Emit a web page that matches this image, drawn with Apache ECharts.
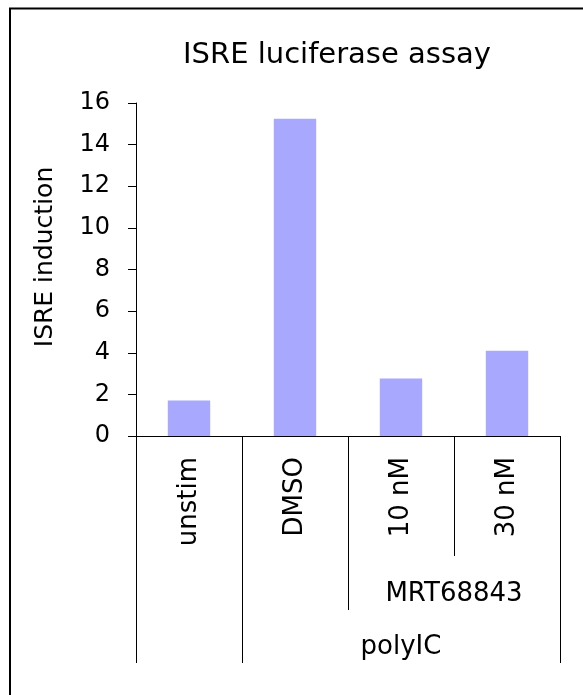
<!DOCTYPE html>
<html>
<head>
<meta charset="utf-8">
<script src="https://cdn.jsdelivr.net/npm/echarts@6/dist/echarts.min.js"></script>
<style>
  html, body { margin: 0; padding: 0; background: #fff; }
  #main { width: 583px; height: 695px; }
</style>
</head>
<body>
<div id="main"></div>
<script>
var categories = ['unstim', 'DMSO', '10 nM', '30 nM']
var induction = [1.7, 15.24, 2.76, 4.1]
var yTicks = [0, 2, 4, 6, 8, 10, 12, 14, 16]

// group rows under the category labels (category index ranges)
var groupNames = ['MRT68843', 'polyIC']
var groupFrom = [2, 1]
var groupTo = [4, 4]

var FONT = 'DejaVu Sans'

function main() {
  var myChart = echarts.init(document.getElementById('main'))
  var option = {
    animation: false,
    title: {
      text: 'ISRE luciferase assay',
      left: 332,
      textAlign: 'center',
      top: 36,
      textStyle: { fontFamily: FONT, fontSize: 29, fontWeight: 'normal', color: '#000' }
    },
    grid: { left: 136, right: 23, top: 103, bottom: 259 },
    xAxis: {
      type: 'category',
      data: categories,
      axisLine: { lineStyle: { color: '#000', width: 1 } },
      axisTick: { show: true, length: 120, lineStyle: { color: '#000', width: 1 } },
      axisLabel: {
        rotate: 90,
        margin: 21,
        interval: 0,
        fontFamily: FONT,
        fontSize: 26,
        color: '#000'
      }
    },
    yAxis: {
      type: 'value',
      min: yTicks[0],
      max: yTicks[yTicks.length - 1],
      interval: 2,
      name: 'ISRE induction',
      nameLocation: 'middle',
      nameGap: 78,
      nameTextStyle: { fontFamily: FONT, fontSize: 25, color: '#000', padding: [0, 0, 0, 25] },
      axisLine: { show: true, lineStyle: { color: '#000', width: 1 } },
      axisTick: { show: true, length: 8, lineStyle: { color: '#000', width: 1 } },
      axisLabel: { margin: 26, fontFamily: FONT, fontSize: 24, color: '#000' },
      splitLine: { show: false }
    },
    series: [{
      type: 'bar',
      data: induction,
      barWidth: '40%',
      itemStyle: { color: '#a8a8ff' }
    }]
  }
  myChart.setOption(option)
  drawGroups(myChart)
}

function drawGroups(chart) {
  var c0 = chart.convertToPixel({ xAxisIndex: 0 }, 0)
  var c1 = chart.convertToPixel({ xAxisIndex: 0 }, 1)
  var band = c1 - c0
  var left = c0 - band / 2
  var y0 = chart.convertToPixel({ yAxisIndex: 0 }, 0)
  var rowBottoms = [y0 + 120, y0 + 174, y0 + 227]
  function bx(b) { return left + b * band }

  var g = []
  // frame
  g.push({
    type: 'rect', shape: { x: 10, y: 8.5, width: 1000, height: 1000 },
    style: { fill: 'none', stroke: '#000', lineWidth: 2 }, silent: true
  })

  // how deep each boundary line goes
  var nRows = groupNames.length
  for (var b = 0; b <= categories.length; b++) {
    var depth = 0
    if (b === 0 || b === categories.length) depth = nRows
    for (var i = 0; i < nRows; i++) {
      if (groupFrom[i] === b || groupTo[i] === b) depth = Math.max(depth, i + 1)
    }
    if (depth > 0) {
      var x = Math.round(bx(b)) + 0.5
      g.push({
        type: 'line',
        shape: { x1: x, y1: rowBottoms[0], x2: x, y2: rowBottoms[depth] },
        style: { stroke: '#000', lineWidth: 1 }, silent: true
      })
    }
  }

  for (var j = 0; j < nRows; j++) {
    g.push({
      type: 'text',
      x: (bx(groupFrom[j]) + bx(groupTo[j])) / 2,
      y: (rowBottoms[j] + rowBottoms[j + 1]) / 2 + 11,
      style: {
        text: groupNames[j],
        fontFamily: FONT,
        fontSize: 26,
        fill: '#000',
        align: 'center',
        verticalAlign: 'middle'
      },
      silent: true
    })
  }
  chart.setOption({ graphic: g })
}

window.onload = main
</script>
</body>
</html>
